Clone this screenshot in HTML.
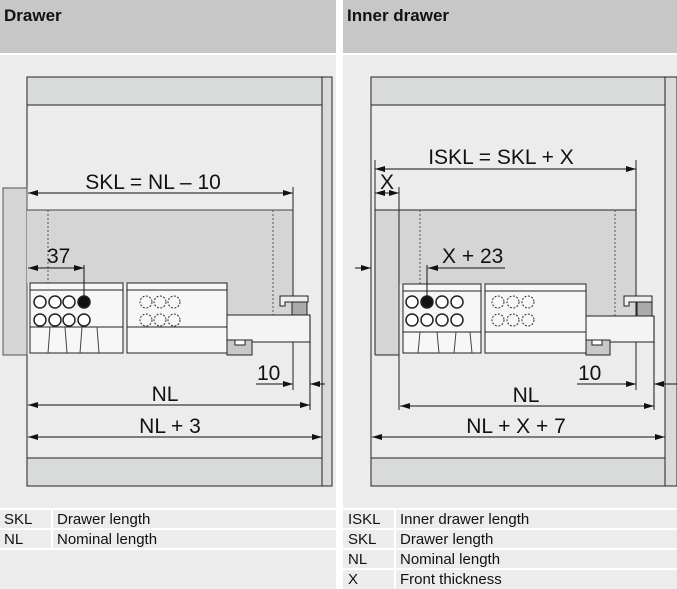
<!DOCTYPE html>
<html><head><meta charset="utf-8"><style>
html,body{margin:0;padding:0;background:#fff;}
svg{display:block;font-family:"Liberation Sans",sans-serif;}
</style></head><body>
<svg width="677" height="589" viewBox="0 0 677 589" xmlns="http://www.w3.org/2000/svg">
<defs>
<marker id="a" viewBox="0 0 10 6" refX="10" refY="3" markerWidth="10" markerHeight="6" orient="auto-start-reverse" markerUnits="userSpaceOnUse"><path d="M0,0L10,3L0,6z" fill="#111"/></marker>
<g id="runner">
  <rect x="0" y="0" width="93" height="70" fill="#f7f7f7" stroke="#222" stroke-width="1"/>
  <line x1="0" y1="7" x2="93" y2="7" stroke="#222"/>
  <line x1="0" y1="44" x2="93" y2="44" stroke="#222"/>
  <path d="M20,44 L18,70 M35,44 L37,70 M52,44 L50,70 M67,44 L69,70" stroke="#444" fill="none"/>
</g>
</defs>
<rect x="0" y="0" width="336" height="53" fill="#c6c7c6"/>
<rect x="343" y="0" width="334" height="53" fill="#c6c7c6"/>
<rect x="0" y="55" width="336" height="534" fill="#ececec"/>
<rect x="343" y="55" width="334" height="534" fill="#ececec"/>
<text x="4" y="21" font-size="17" font-weight="bold" fill="#111">Drawer</text>
<text x="347" y="21" font-size="17" font-weight="bold" fill="#111">Inner drawer</text>

<!-- LEFT -->
<rect x="27" y="77" width="295" height="409" fill="#ececec" stroke="#222"/>
<rect x="27" y="77" width="295" height="28" fill="#d9dbda" stroke="#222"/>
<rect x="27" y="458" width="295" height="28" fill="#d9dbda" stroke="#222"/>
<rect x="322" y="77" width="10" height="409" fill="#d9dbda" stroke="#222"/>
<rect x="3" y="188" width="24" height="167" fill="#d4d5d4" stroke="#555"/>
<path d="M27,210 H293 V315 H227 V283 H27 Z" fill="#d4d5d4"/>
<line x1="27" y1="210" x2="293" y2="210" stroke="#444"/>
<line x1="293" y1="187" x2="293" y2="390" stroke="#222"/>
<line x1="48" y1="210" x2="48" y2="283" stroke="#555" stroke-dasharray="2,2"/>
<line x1="273" y1="210" x2="273" y2="315" stroke="#555" stroke-dasharray="2,2"/>
<rect x="227" y="315" width="83" height="27" fill="#f4f4f4" stroke="#222"/>
<rect x="227" y="340" width="25" height="15" fill="#c8c8c8" stroke="#222"/>
<rect x="235" y="340" width="10" height="5" fill="#fff" stroke="#222"/>
<path d="M280,296 H308 V302 H285 V306 H280 Z" fill="#eee" stroke="#222"/>
<rect x="292" y="302" width="15" height="13" fill="#aaa" stroke="#222"/>
<use href="#runner" x="30" y="283"/>
<rect x="127" y="283" width="100" height="70" fill="#f7f7f7" stroke="#222"/>
<line x1="127" y1="290" x2="227" y2="290" stroke="#222"/>
<line x1="127" y1="327" x2="227" y2="327" stroke="#222"/>
<g fill="#fff" stroke="#222" stroke-width="1.5">
<circle cx="40" cy="302" r="6"/><circle cx="55" cy="302" r="6"/><circle cx="69" cy="302" r="6"/><circle cx="84" cy="302" r="6" fill="#111"/>
<circle cx="40" cy="320" r="6"/><circle cx="55" cy="320" r="6"/><circle cx="69" cy="320" r="6"/><circle cx="84" cy="320" r="6"/>
</g>
<g fill="none" stroke="#333" stroke-dasharray="2,1.5">
<circle cx="146" cy="302" r="6"/><circle cx="160" cy="302" r="6"/><circle cx="174" cy="302" r="6"/>
<circle cx="146" cy="320" r="6"/><circle cx="160" cy="320" r="6"/><circle cx="174" cy="320" r="6"/>
</g>
<line x1="28" y1="193" x2="293" y2="193" stroke="#111" marker-start="url(#a)" marker-end="url(#a)"/>
<text x="153" y="189" font-size="21" text-anchor="middle" fill="#111">SKL = NL – 10</text>
<line x1="28" y1="268" x2="84" y2="268" stroke="#111" marker-start="url(#a)" marker-end="url(#a)"/>
<line x1="84" y1="265" x2="84" y2="298" stroke="#111"/>
<text x="47" y="263" font-size="21" fill="#111">37</text>
<line x1="256" y1="384" x2="293" y2="384" stroke="#111" marker-end="url(#a)"/>
<line x1="325" y1="384" x2="310" y2="384" stroke="#111" marker-end="url(#a)"/>
<text x="257" y="380" font-size="21" fill="#111">10</text>
<line x1="310" y1="315" x2="310" y2="410" stroke="#111"/>
<line x1="28" y1="405" x2="310" y2="405" stroke="#111" marker-start="url(#a)" marker-end="url(#a)"/>
<text x="165" y="401" font-size="21" text-anchor="middle" fill="#111">NL</text>
<line x1="28" y1="437" x2="322" y2="437" stroke="#111" marker-start="url(#a)" marker-end="url(#a)"/>
<text x="170" y="433" font-size="21" text-anchor="middle" fill="#111">NL + 3</text>

<!-- RIGHT -->
<rect x="371" y="77" width="294" height="409" fill="#ececec" stroke="#222"/>
<rect x="371" y="77" width="294" height="28" fill="#d9dbda" stroke="#222"/>
<rect x="371" y="458" width="294" height="28" fill="#d9dbda" stroke="#222"/>
<rect x="665" y="77" width="12" height="409" fill="#d9dbda" stroke="#222"/>
<path d="M375,210 H636 V316 H586 V284 H399 V355 H375 Z" fill="#d4d5d4"/>
<line x1="375" y1="210" x2="636" y2="210" stroke="#222"/>
<line x1="375" y1="160" x2="375" y2="355" stroke="#222"/>
<line x1="375" y1="355" x2="399" y2="355" stroke="#222"/>
<line x1="636" y1="160" x2="636" y2="390" stroke="#222"/>
<line x1="399" y1="187" x2="399" y2="410" stroke="#222"/>
<line x1="420" y1="210" x2="420" y2="284" stroke="#555" stroke-dasharray="2,2"/>
<line x1="615" y1="210" x2="615" y2="316" stroke="#555" stroke-dasharray="2,2"/>
<rect x="586" y="316" width="68" height="26" fill="#f4f4f4" stroke="#222"/>
<rect x="586" y="340" width="24" height="15" fill="#c8c8c8" stroke="#222"/>
<rect x="592" y="340" width="10" height="5" fill="#fff" stroke="#222"/>
<path d="M624,296 H652 V302 H629 V306 H624 Z" fill="#eee" stroke="#222"/>
<rect x="637" y="302" width="15" height="14" fill="#aaa" stroke="#222"/>
<rect x="403" y="284" width="78" height="69" fill="#f7f7f7" stroke="#222"/>
<line x1="403" y1="291" x2="481" y2="291" stroke="#222"/>
<line x1="403" y1="332" x2="481" y2="332" stroke="#222"/>
<path d="M420,332 L418,353 M437,332 L439,353 M456,332 L454,353 M470,332 L472,353" stroke="#444"/>
<rect x="485" y="284" width="101" height="69" fill="#f7f7f7" stroke="#222"/>
<line x1="485" y1="291" x2="586" y2="291" stroke="#222"/>
<line x1="485" y1="332" x2="586" y2="332" stroke="#222"/>
<g fill="#fff" stroke="#222" stroke-width="1.5">
<circle cx="412" cy="302" r="6"/><circle cx="427" cy="302" r="6" fill="#111"/><circle cx="442" cy="302" r="6"/><circle cx="457" cy="302" r="6"/>
<circle cx="412" cy="320" r="6"/><circle cx="427" cy="320" r="6"/><circle cx="442" cy="320" r="6"/><circle cx="457" cy="320" r="6"/>
</g>
<g fill="none" stroke="#333" stroke-dasharray="2,1.5">
<circle cx="498" cy="302" r="6"/><circle cx="513" cy="302" r="6"/><circle cx="528" cy="302" r="6"/>
<circle cx="498" cy="320" r="6"/><circle cx="513" cy="320" r="6"/><circle cx="528" cy="320" r="6"/>
</g>
<line x1="375" y1="169" x2="636" y2="169" stroke="#111" marker-start="url(#a)" marker-end="url(#a)"/>
<text x="501" y="164" font-size="21" text-anchor="middle" fill="#111">ISKL = SKL + X</text>
<line x1="375" y1="193" x2="399" y2="193" stroke="#111" marker-start="url(#a)" marker-end="url(#a)"/>
<text x="380" y="189" font-size="21" fill="#111">X</text>
<line x1="355" y1="268" x2="371" y2="268" stroke="#111" marker-end="url(#a)"/>
<line x1="505" y1="268" x2="428" y2="268" stroke="#111" marker-end="url(#a)"/>
<line x1="427" y1="265" x2="427" y2="300" stroke="#111"/>
<text x="442" y="263" font-size="21" fill="#111">X + 23</text>
<line x1="577" y1="384" x2="636" y2="384" stroke="#111" marker-end="url(#a)"/>
<line x1="677" y1="384" x2="654" y2="384" stroke="#111" marker-end="url(#a)"/>
<text x="578" y="380" font-size="21" fill="#111">10</text>
<line x1="654" y1="316" x2="654" y2="410" stroke="#111"/>
<line x1="400" y1="406" x2="654" y2="406" stroke="#111" marker-start="url(#a)" marker-end="url(#a)"/>
<text x="526" y="402" font-size="21" text-anchor="middle" fill="#111">NL</text>
<line x1="372" y1="437" x2="665" y2="437" stroke="#111" marker-start="url(#a)" marker-end="url(#a)"/>
<text x="516" y="433" font-size="21" text-anchor="middle" fill="#111">NL + X + 7</text>

<g stroke="#fff" stroke-width="2">
<line x1="0" y1="509" x2="336" y2="509"/><line x1="0" y1="529" x2="336" y2="529"/><line x1="0" y1="549" x2="336" y2="549"/>
<line x1="52" y1="509" x2="52" y2="549"/>
<line x1="343" y1="509" x2="677" y2="509"/><line x1="343" y1="529" x2="677" y2="529"/><line x1="343" y1="549" x2="677" y2="549"/><line x1="343" y1="569" x2="677" y2="569"/>
<line x1="395" y1="509" x2="395" y2="589"/>
</g>
<g font-size="15" fill="#111">
<text x="4" y="524">SKL</text><text x="57" y="524">Drawer length</text>
<text x="4" y="544">NL</text><text x="57" y="544">Nominal length</text>
<text x="348" y="524">ISKL</text><text x="400" y="524">Inner drawer length</text>
<text x="348" y="544">SKL</text><text x="400" y="544">Drawer length</text>
<text x="348" y="564">NL</text><text x="400" y="564">Nominal length</text>
<text x="348" y="584">X</text><text x="400" y="584">Front thickness</text>
</g>
</svg>
</body></html>
